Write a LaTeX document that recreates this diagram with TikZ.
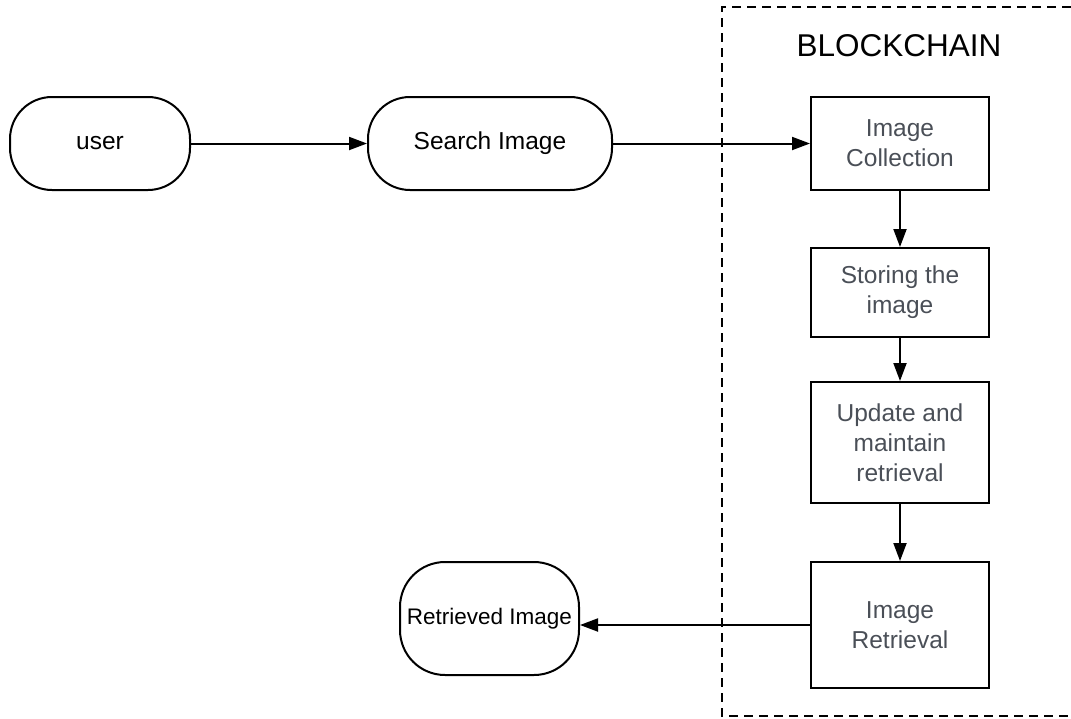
\documentclass[tikz,border=0pt]{standalone}
\usepackage{fontspec}
\setmainfont{Liberation Sans}
\usetikzlibrary{arrows.meta}
\definecolor{boxtext}{HTML}{4A4F57}
\tikzset{
  edge/.style={line width=2pt, draw=black},
  flow/.style={edge, -{Triangle[length=18pt,width=13pt]}},
  pill/.style={draw=black, line width=2pt, rounded corners=42pt, inner sep=0pt,
    align=center, font=\fontsize{24.5}{30}\selectfont},
  stepbox/.style={draw=black, line width=2pt, inner sep=0pt, minimum width=178pt,
    align=center, text=boxtext, font=\fontsize{24.5}{30}\selectfont},
  frame/.style={line width=1.5pt, dash pattern=on 9pt off 6pt},
}
\begin{document}
\begin{tikzpicture}[x=1pt,y=-1pt]
\useasboundingbox (0,0) rectangle (1071,718);

% Blockchain boundary (open on the right)
\draw[frame] (1071,7) -- (722,7) -- (722,716) -- (1071,716);
\node[font=\fontsize{31.5}{38}\selectfont] (title) at (899,45.5) {BLOCKCHAIN};

% Client side
\node[pill, minimum width=180pt, minimum height=93pt] (user) at (100,143.5) {user};
\node[pill, minimum width=244pt, minimum height=93pt] (search) at (490,143.5) {Search Image};
\node[pill, minimum width=179pt, minimum height=113pt, rounded corners=45pt,
      font=\fontsize{22.5}{28}\selectfont] (ret) at (489.5,618.5) {Retrieved Image};

% Blockchain steps
\node[stepbox, minimum height=93pt] (ic) at (900,143.5) {Image\\Collection};
\node[stepbox, minimum height=89pt] (st) at (900,292.5) {Storing the\\image};
\node[stepbox, minimum height=121pt] (up) at (900,442.5) {Update and\\maintain\\retrieval};
\node[stepbox, minimum height=126pt] (ir) at (900,625) {Image\\Retrieval};

% Connectors
\draw[flow] (user) -- (search);
\draw[flow] (search) -- (ic);
\draw[flow] (ic) -- (st);
\draw[flow] (st) -- (up);
\draw[flow] (up) -- (ir);
\draw[flow] (ir.west) -- (ir.west -| ret.east);
\end{tikzpicture}
\end{document}
